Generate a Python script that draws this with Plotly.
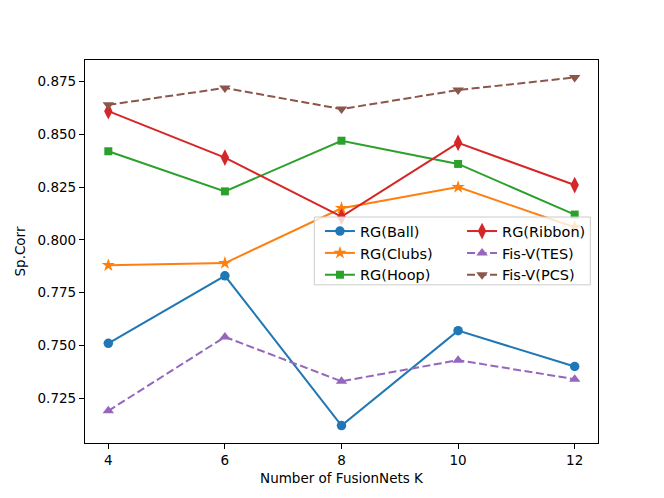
import plotly.graph_objects as go

# number of FusionNets
k_values = [4, 6, 8, 10, 12]

# Spearman correlation per dataset
rg_ball = [0.751, 0.783, 0.712, 0.757, 0.740]
rg_clubs = [0.788, 0.789, 0.815, 0.825, 0.806]
rg_hoop = [0.842, 0.823, 0.847, 0.836, 0.812]
rg_ribbon = [0.861, 0.839, 0.811, 0.846, 0.826]
fisv_tes = [0.719, 0.754, 0.733, 0.743, 0.734]
fisv_pcs = [0.864, 0.872, 0.862, 0.871, 0.877]

series = [
    ("RG(Ball)", rg_ball, "#1f77b4", "circle", 9.5, "solid", "legend"),
    ("RG(Clubs)", rg_clubs, "#ff7f0e", "star", 10, "solid", "legend"),
    ("RG(Hoop)", rg_hoop, "#2ca02c", "square", 8, "solid", "legend"),
    ("RG(Ribbon)", rg_ribbon, "#d62728", "diamond-tall", 12, "solid", "legend2"),
    ("Fis-V(TES)", fisv_tes, "#9467bd", "triangle-up", 10, "8px,3.5px", "legend2"),
    ("Fis-V(PCS)", fisv_pcs, "#8c564b", "triangle-down", 10, "8px,3.5px", "legend2"),
]

font = dict(family="DejaVu Sans, Arial, sans-serif", size=13.5, color="black")
legfont = dict(family="DejaVu Sans, Arial, sans-serif", size=14.5, color="black")

fig = go.Figure()
for name, vals, color, symbol, size, dash, leg in series:
    fig.add_trace(go.Scatter(
        x=k_values, y=vals, name=name, mode="lines+markers",
        line=dict(color=color, width=2, dash=dash),
        marker=dict(symbol=symbol, size=size, color=color, line=dict(width=0)),
        legend=leg,
    ))

# matplotlib-like 5% margins
all_vals = rg_ball + rg_clubs + rg_hoop + rg_ribbon + fisv_tes + fisv_pcs
ylo, yhi = min(all_vals), max(all_vals)
ypad = 0.05 * (yhi - ylo)
xpad = 0.05 * (max(k_values) - min(k_values))

# page body has an 8px margin, so the figure is 8px smaller
fig.update_layout(
    width=656, height=490,
    margin=dict(l=75, r=66, t=52, b=55),
    paper_bgcolor="white", plot_bgcolor="white",
    font=font,
    legend=dict(x=0.458, y=0.595, xanchor="left", yanchor="top",
                bgcolor="rgba(0,0,0,0)", font=legfont, tracegroupgap=0,
                itemwidth=30),
    legend2=dict(x=0.735, y=0.595, xanchor="left", yanchor="top",
                 bgcolor="rgba(0,0,0,0)", font=legfont, tracegroupgap=0,
                 itemwidth=30),
    # legend frame
    shapes=[dict(type="rect", xref="paper", yref="paper",
                 x0=0.447, x1=0.985, y0=0.413, y1=0.590,
                 fillcolor="rgba(255,255,255,0.8)",
                 line=dict(color="#cccccc", width=1), layer="above")],
)

fig.update_xaxes(
    range=[min(k_values) - xpad, max(k_values) + xpad],
    tickvals=k_values, ticks="outside", ticklen=5, tickwidth=1, tickcolor="black",
    showline=True, linecolor="black", linewidth=1.2, mirror=True,
    showgrid=False, zeroline=False,
    title=dict(text="Number of FusionNets K", font=font, standoff=6),
)
fig.update_yaxes(
    range=[ylo - ypad, yhi + ypad],
    dtick=0.025, tick0=0.725, tickformat=".3f",
    ticks="outside", ticklen=5, tickwidth=1, tickcolor="black",
    showline=True, linecolor="black", linewidth=1.2, mirror=True,
    showgrid=False, zeroline=False,
    title=dict(text="Sp.Corr", font=font, standoff=8),
)

fig.write_html("out.html")
